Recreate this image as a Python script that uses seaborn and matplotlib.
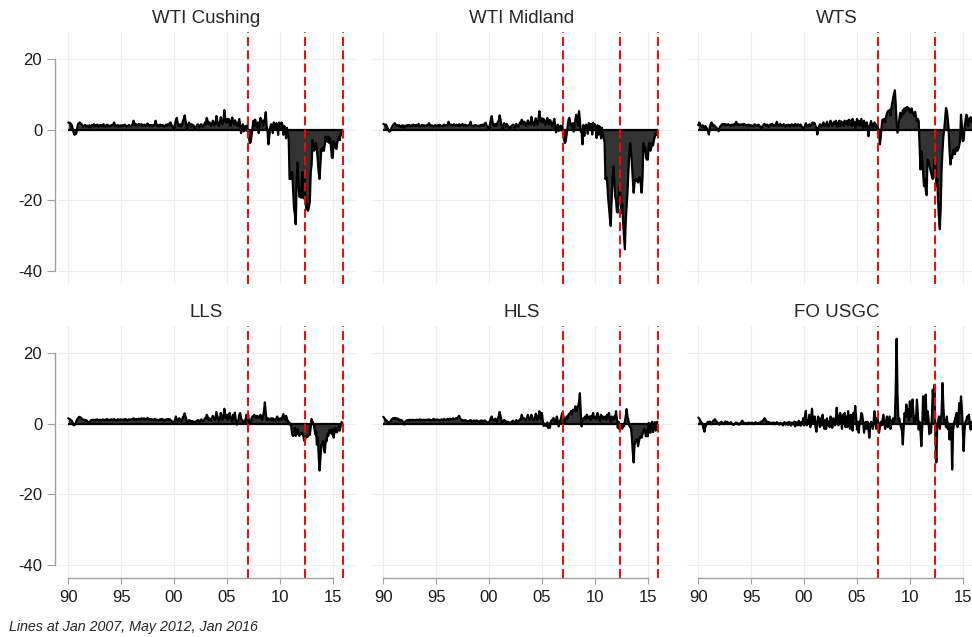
import numpy as np
import pandas as pd
import seaborn as sns
import matplotlib.pyplot as plt

PANELS = ['WTI Cushing', 'WTI Midland', 'WTS', 'LLS', 'HLS', 'FO USGC']
EVENT_LINES = [2007.0, 2012 + 4 / 12, 2016.0]   # Jan 2007, May 2012, Jan 2016
XTICKS = [1990, 1995, 2000, 2005, 2010, 2015]
XLABELS = ['90', '95', '00', '05', '10', '15']
YTICKS = [-40, -20, 0, 20]

# monthly values, one row per year, 1990 .. 2015
wti_cushing = [
    [2.0, 1.8, 1.9, 1.5, 1.2, 0.2, -0.8, -1.5, -1.0, -1.2, 0.3, 1.5],
    [1.8, 2.0, 1.7, 1.5, 1.2, 0.8, 1.0, 1.3, 0.8, 1.1, 1.0, 0.6],
    [1.2, 1.0, 0.7, 1.3, 1.1, 1.5, 0.9, 1.2, 1.0, 1.4, 0.8, 1.1],
    [1.3, 1.0, 1.2, 0.9, 1.5, 1.1, 0.8, 1.2, 1.4, 1.0, 1.1, 0.9],
    [1.0, 1.3, 1.1, 1.5, 2.0, 1.2, 0.9, 1.1, 1.3, 1.0, 0.8, 1.2],
    [1.1, 0.9, 1.3, 1.0, 1.4, 1.2, 0.8, 1.0, 1.1, 1.3, 0.9, 1.0],
    [1.2, 1.5, 2.5, 1.8, 1.2, 1.5, 1.3, 1.0, 1.6, 1.4, 1.2, 1.5],
    [1.3, 1.1, 1.4, 1.2, 1.0, 1.5, 1.7, 1.2, 1.1, 1.3, 0.9, 1.2],
    [1.0, 1.2, 1.5, 2.5, 1.3, 1.0, 1.2, 0.9, 1.4, 1.1, 1.3, 1.0],
    [1.2, 0.8, 1.0, 1.4, 1.1, 1.5, 1.2, 1.8, 2.0, 1.3, 1.0, 0.5],
    [0.2, 1.5, 2.5, 3.3, 2.0, 1.0, 1.2, 1.5, 0.8, 1.2, 2.5, 3.0],
    [4.0, 2.5, 1.0, 0.0, 1.2, 2.0, 1.5, 0.8, 1.5, 1.0, 1.2, 0.5],
    [0.0, 0.8, 1.2, 1.5, 1.0, 0.6, 1.3, 1.5, 1.0, 0.8, 1.2, 2.0],
    [1.5, 3.3, 2.5, 1.5, 2.0, 1.8, 1.0, 1.5, 2.5, 2.0, 1.2, 1.5],
    [3.8, 2.5, 1.5, 1.0, 2.0, 3.5, 2.0, 1.5, 2.5, 5.5, 3.0, 2.0],
    [3.0, 2.0, 3.0, 2.0, 1.0, 2.5, 3.4, 2.0, 1.5, 2.6, 2.2, 1.5],
    [1.0, 2.0, 3.0, 1.0, -1.0, 0.5, 1.5, -0.5, 0.8, 1.0, -0.3, 1.2],
    [-1.0, -2.5, -3.8, -3.5, -1.5, 0.5, 2.5, 1.0, 2.8, 1.5, 0.5, 2.0],
    [-1.0, 1.5, 3.3, 2.8, 2.0, 1.0, 2.5, 3.0, 4.9, 1.0, -0.5, -4.2],
    [-2.0, 0.5, 1.5, 1.0, -1.0, 2.0, 1.5, 0.5, 1.8, 1.0, -1.5, 2.0],
    [1.5, 0.5, 2.0, 1.2, -1.5, 1.0, 0.5, -2.5, 0.5, -1.5, -2.5, -14.0],
    [-14.0, -13.0, -12.0, -17.0, -22.0, -24.0, -26.8, -15.0, -9.4, -14.0, -19.0, -18.8],
    [-19.3, -14.0, -12.0, -19.5, -13.0, -20.0, -22.6, -21.0, -23.0, -21.7, -20.5, -12.0],
    [-10.0, -3.0, -4.0, -6.0, -5.0, -3.8, -5.6, -9.0, -12.0, -14.0, -10.0, -5.6],
    [-6.0, -5.0, -6.0, -4.0, -2.0, -3.0, -3.5, -2.0, -3.8, -2.5, -5.0, -8.0],
    [-8.0, -3.3, -5.0, -4.0, -5.5, -3.8, -3.0, -2.0, -3.0, -1.0, -1.5, -0.5],
]

wti_midland = [
    [1.6, 1.5, 1.2, 1.4, 1.0, 0.3, -0.3, -0.6, -0.4, 0.2, 0.8, 1.2],
    [1.5, 1.8, 1.4, 1.1, 1.3, 0.9, 1.2, 1.0, 0.7, 1.1, 1.2, 0.5],
    [1.0, 1.1, 0.8, 1.2, 1.0, 1.3, 1.1, 0.9, 1.2, 1.0, 1.4, 1.1],
    [1.2, 1.0, 1.3, 1.1, 1.6, 1.0, 0.9, 1.1, 1.3, 0.9, 1.2, 1.0],
    [1.1, 1.2, 1.0, 1.4, 1.8, 1.1, 1.0, 1.2, 1.1, 0.9, 1.0, 1.3],
    [1.0, 1.1, 1.2, 0.9, 1.3, 1.1, 1.0, 0.8, 1.2, 1.4, 1.0, 1.1],
    [1.3, 1.2, 2.2, 1.6, 1.1, 1.4, 1.2, 1.1, 1.5, 1.3, 1.0, 1.4],
    [1.2, 1.0, 1.5, 1.1, 1.2, 1.4, 1.6, 1.0, 1.2, 1.4, 1.0, 1.1],
    [0.9, 1.3, 1.4, 2.2, 1.2, 1.1, 1.0, 1.0, 1.3, 1.2, 1.1, 0.9],
    [1.1, 0.9, 1.2, 1.3, 1.0, 1.4, 1.1, 1.6, 1.9, 1.2, 0.9, 0.4],
    [0.3, 1.6, 2.8, 3.8, 2.0, 1.2, 1.0, 1.6, 0.9, 1.4, 2.2, 2.6],
    [4.0, 2.8, 1.2, 0.1, 1.0, 1.8, 1.4, 0.7, 1.6, 1.1, 1.0, 0.4],
    [0.1, 0.9, 1.1, 1.4, 1.2, 0.5, 1.2, 1.6, 1.1, 0.7, 1.3, 2.0],
    [1.6, 2.8, 2.3, 1.4, 2.2, 1.6, 1.1, 1.7, 2.6, 1.8, 1.3, 1.7],
    [3.6, 2.4, 1.6, 1.2, 2.2, 3.2, 2.0, 1.4, 2.7, 5.2, 2.8, 2.2],
    [3.2, 2.0, 3.0, 2.2, 1.2, 2.4, 3.3, 1.8, 1.4, 2.7, 2.3, 1.4],
    [0.8, 2.1, 3.0, 1.1, -0.8, 0.6, 1.4, -0.4, 0.7, 1.1, -0.2, 1.0],
    [-0.8, -2.8, -3.8, -3.2, -1.2, 0.7, 2.6, 3.3, 2.0, 1.2, 0.6, 1.8],
    [-0.6, 1.4, 3.0, 4.2, 2.2, 1.0, 5.2, 2.8, -0.4, -1.0, -4.2, 1.3],
    [-1.8, 0.6, 1.4, 0.9, -1.2, 1.8, 1.6, 0.4, 1.6, -1.4, 1.9, 1.2],
    [1.5, 0.5, -2.4, 1.2, -1.5, 1.0, 0.5, -2.5, 0.5, -1.5, -2.5, -3.5],
    [-14.0, -13.5, -15.0, -19.0, -22.0, -25.0, -27.3, -20.0, -14.0, -10.4, -14.0, -19.0],
    [-20.0, -23.2, -23.5, -18.8, -16.0, -19.0, -23.5, -21.0, -26.0, -30.0, -33.9, -26.0],
    [-21.7, -18.0, -12.0, -7.0, -3.8, -6.0, -9.4, -14.0, -17.9, -15.0, -14.0, -14.5],
    [-14.0, -15.0, -14.0, -13.5, -15.0, -17.9, -14.0, -3.8, -6.0, -5.0, -8.0, -8.5],
    [-8.5, -5.0, -3.8, -6.0, -5.0, -3.8, -4.5, -3.0, -2.0, -1.0, -1.5, -0.5],
]

wts = [
    [1.2, 2.0, 1.5, 1.0, 0.8, 1.2, 0.8, 0.5, 1.0, 0.6, 0.2, -0.3],
    [-1.4, 0.5, 1.5, 2.0, 1.6, 1.0, 1.2, 0.9, 0.6, 0.4, 0.1, -0.5],
    [0.4, 0.9, 1.2, 1.5, 1.3, 1.6, 1.4, 1.5, 1.2, 1.4, 1.5, 1.3],
    [1.2, 1.0, 1.4, 1.3, 1.1, 1.6, 1.5, 2.2, 1.4, 1.3, 1.5, 1.2],
    [1.4, 1.3, 1.5, 1.2, 1.6, 1.4, 1.2, 1.3, 1.1, 1.4, 1.2, 1.0],
    [1.2, 1.0, 0.9, 1.3, 1.5, 1.2, 1.0, 1.1, 1.4, 1.2, 0.9, 0.6],
    [0.4, 1.0, 1.3, 1.6, 1.2, 1.0, 1.4, 1.2, 0.8, 1.1, 1.5, 1.3],
    [1.6, 1.2, 1.0, 1.4, 1.2, 2.2, 1.5, 1.0, 1.2, 1.6, 1.3, 1.0],
    [1.2, 1.5, 1.0, 0.8, 1.3, 1.1, 1.4, 1.2, 0.9, 1.3, 1.5, 1.1],
    [1.3, 1.0, 1.6, 1.2, 1.0, 1.5, 1.3, 1.1, 1.4, 1.0, 0.6, 0.3],
    [0.5, 1.0, 1.8, 1.2, 0.8, 1.2, 1.5, 0.9, 1.2, 1.8, 2.0, 1.5],
    [1.8, 1.0, 0.5, -1.4, 0.2, 1.0, 1.5, 1.2, 0.8, 1.5, 2.0, 1.2],
    [1.0, 1.5, 2.2, 1.2, 0.8, 1.5, 2.5, 1.5, 1.0, 1.8, 2.2, 1.5],
    [2.5, 1.2, 0.8, 2.0, 2.5, 1.0, 2.3, 1.5, 2.0, 1.0, 2.5, 2.0],
    [1.5, 2.5, 1.2, 2.8, 1.5, 2.5, 1.0, 3.0, 1.5, 2.2, 0.5, 1.0],
    [3.0, 1.5, 2.5, 1.0, 2.0, 3.0, 1.0, 0.5, 2.5, 1.5, 0.5, 2.0],
    [1.0, -1.9, 0.5, 1.5, 2.4, 1.5, 0.5, 1.5, 2.0, 1.0, 0.5, 1.5],
    [0.5, -1.0, -4.2, -2.0, 1.0, 2.8, 2.5, 3.0, 2.0, 3.5, 4.5, 5.2],
    [5.0, 5.6, 4.0, 6.0, 7.5, 8.9, 10.0, 11.1, 7.0, 2.0, -0.9, 1.0],
    [3.0, 4.7, 3.5, 4.0, 5.5, 4.5, 6.0, 5.0, 6.2, 6.4, 5.5, 6.0],
    [5.0, 4.7, 6.0, 5.0, 4.5, 3.8, 5.0, 3.5, 2.4, 3.0, 2.4, -4.7],
    [-11.3, -6.1, -8.0, -12.0, -16.0, -14.0, -17.0, -18.6, -8.5, -9.0, -9.9, -11.0],
    [-12.0, -13.2, -14.0, -12.0, -8.5, -10.0, -16.0, -14.0, -20.0, -25.0, -28.2, -22.0],
    [-11.3, -6.0, -2.0, 0.0, 3.0, 6.1, 5.2, 3.0, 0.0, -6.0, -9.9, -8.0],
    [-8.0, -6.0, -5.6, -7.0, -6.0, -5.0, -6.0, -5.5, -4.5, -3.0, 4.2, 1.0],
    [-3.3, -3.0, 0.5, 2.4, 4.2, 3.8, 1.0, 3.0, 2.5, 3.5, 2.0, 2.5],
]

lls = [
    [1.5, 1.3, 1.2, 1.0, 0.8, 0.2, -0.5, -0.4, -0.2, 0.5, 1.2, 1.5],
    [1.8, 1.9, 1.7, 1.5, 1.2, 1.0, 1.1, 0.9, 1.0, 0.8, 0.6, 0.2],
    [0.0, 0.8, 1.0, 0.9, 1.1, 1.0, 0.9, 1.1, 1.0, 1.2, 0.9, 1.0],
    [1.1, 0.9, 1.0, 1.2, 1.0, 0.9, 1.1, 1.0, 1.3, 1.0, 0.9, 1.1],
    [1.0, 1.2, 1.0, 1.1, 1.3, 1.0, 0.9, 1.0, 1.2, 1.1, 1.0, 1.2],
    [1.1, 1.0, 1.2, 1.0, 1.1, 1.3, 1.0, 0.9, 1.1, 1.2, 1.0, 1.1],
    [1.2, 1.3, 1.5, 1.2, 1.0, 1.3, 1.1, 1.2, 1.4, 1.3, 1.1, 1.5],
    [1.4, 1.2, 1.5, 1.3, 1.1, 1.4, 1.6, 1.2, 1.1, 1.3, 1.0, 1.2],
    [1.0, 1.1, 1.3, 1.2, 1.0, 1.1, 0.9, 1.0, 1.2, 1.1, 1.3, 1.0],
    [1.1, 0.8, 1.0, 1.2, 1.0, 1.3, 1.1, 1.2, 1.0, 0.8, 0.5, 0.3],
    [0.5, 1.0, 2.0, 1.2, 0.8, 1.0, 1.5, 0.8, 0.3, 1.0, 1.8, 2.2],
    [2.9, 2.0, 1.0, 0.0, 0.5, 1.0, 0.8, 0.5, 0.7, 0.5, 0.6, 0.3],
    [0.4, 0.6, 0.8, 1.0, 0.7, 0.5, 1.0, 1.2, 0.8, 0.6, 1.0, 1.5],
    [1.2, 2.5, 2.0, 1.0, 1.5, 1.2, 0.8, 1.5, 2.2, 1.5, 1.0, 1.4],
    [3.3, 2.2, 1.2, 0.8, 1.5, 3.0, 1.8, 1.0, 2.0, 4.2, 2.5, 1.5],
    [2.5, 1.1, 1.5, 3.0, 2.0, 1.0, 0.5, 2.5, 1.5, 3.1, 1.0, -0.3],
    [0.5, 1.0, 2.5, 3.0, 1.5, 1.0, 0.5, 0.8, 0.0, 1.0, 2.5, 1.0],
    [2.5, 0.5, -0.2, 0.5, 1.5, 2.0, 2.0, 2.5, 2.0, 1.5, 2.2, 1.8],
    [2.0, 1.5, 2.5, 2.0, 1.0, 2.0, 3.5, 6.0, 3.0, 1.1, 1.0, 1.5],
    [1.2, 1.0, 1.5, 0.8, 1.5, 1.0, 1.2, 0.8, 1.5, 2.0, 1.0, 1.4],
    [1.0, 1.5, 1.2, 2.0, 2.7, 1.5, 1.0, 2.2, 1.5, 0.6, 0.5, -0.2],
    [0.0, -1.0, -3.1, -3.5, -3.0, -1.2, -3.5, -2.6, -1.5, -3.0, -3.5, -2.6],
    [-3.0, -2.6, -3.0, -4.0, -5.0, -4.2, -3.6, -3.8, -3.6, -3.0, -3.2, -1.0],
    [1.3, 0.5, 0.0, -1.0, -3.0, -2.0, -6.0, -4.0, -9.0, -13.3, -10.0, -6.0],
    [-6.0, -5.0, -7.3, -8.2, -4.5, -5.0, -3.0, -3.5, -2.0, -1.7, -2.5, -3.0],
    [-1.5, -4.0, -2.0, -1.2, -2.5, -2.4, -1.5, -0.8, -2.0, -0.5, 0.4, 0.2],
]

hls = [
    [1.9, 1.6, 1.2, 1.0, 0.8, 0.5, -0.2, 0.3, 0.6, 1.0, 1.3, 1.5],
    [1.4, 1.6, 1.3, 1.5, 1.2, 1.4, 1.0, 0.8, 1.1, 0.9, 0.6, 0.2],
    [-0.3, 0.6, 0.8, 0.9, 1.0, 0.8, 1.1, 0.9, 1.0, 1.1, 0.9, 1.0],
    [1.0, 0.9, 1.1, 1.0, 0.9, 1.2, 1.0, 1.1, 0.9, 1.0, 1.1, 0.9],
    [1.1, 1.0, 0.9, 1.2, 1.0, 1.1, 1.0, 0.9, 1.1, 1.3, 1.0, 1.1],
    [1.0, 1.2, 1.0, 1.1, 0.9, 1.0, 1.2, 1.1, 1.0, 1.3, 1.1, 1.0],
    [1.1, 1.3, 1.2, 1.0, 1.4, 1.2, 1.1, 1.5, 1.3, 1.2, 1.4, 1.6],
    [1.5, 1.8, 2.2, 1.6, 1.2, 1.0, 0.8, 0.9, 0.7, 1.0, 0.8, 0.6],
    [0.7, 0.6, 0.8, 1.0, 0.7, 0.5, 0.8, 0.9, 0.6, 0.7, 0.9, 0.5],
    [0.6, 0.4, 0.7, 0.9, 0.6, 0.8, 0.5, 0.9, 0.7, 0.5, 0.3, 0.2],
    [0.3, 0.8, 1.5, 2.0, 1.2, 0.8, 1.0, 1.4, 0.8, 0.5, 1.5, 2.0],
    [3.3, 2.2, 1.0, 0.2, 0.6, 1.0, 0.8, 0.4, 0.6, 0.3, 0.5, 0.0],
    [0.0, 0.4, 0.6, 0.8, 0.5, 0.3, 0.7, 1.0, 0.6, 0.5, 0.8, 1.2],
    [1.0, 2.5, 1.8, 1.2, 1.5, 1.0, 0.8, 1.6, 2.5, 1.5, 1.0, 1.4],
    [2.5, 1.8, 1.2, 0.8, 1.5, 2.8, 1.6, 1.0, 2.0, 3.5, 2.0, 1.2],
    [3.0, 0.5, -0.7, 0.0, -0.5, -0.7, 0.3, -1.2, 0.0, -1.2, 0.5, 1.0],
    [1.0, 1.6, 0.8, 0.0, 1.2, 2.0, 0.5, -0.8, 0.5, 1.0, 2.0, 3.0],
    [2.5, 1.2, 0.5, 1.0, 2.0, 1.5, 2.5, 2.8, 3.0, 3.5, 2.5, 3.9],
    [3.5, 4.0, 4.9, 3.5, 4.5, 5.0, 6.0, 8.6, 3.0, -0.8, 0.5, 1.5],
    [1.5, 2.0, 1.2, 2.5, 1.8, 1.5, 2.0, 1.0, 2.2, 1.5, 3.0, 1.5],
    [1.5, 2.0, 1.2, 3.0, 2.0, 1.5, 0.8, 2.5, 1.5, 2.0, 1.2, 1.8],
    [2.0, 1.0, 2.5, 1.5, 3.0, 1.5, 0.5, 2.0, 1.5, 1.0, 2.0, 1.5],
    [3.5, 1.0, -1.2, 0.5, -1.7, -1.0, -0.5, -1.5, -0.3, -0.8, 0.5, 2.0],
    [4.1, 2.0, 1.1, -0.5, -1.0, -1.2, -4.0, -8.0, -11.0, -6.0, -5.0, -4.5],
    [-4.5, -6.4, -5.0, -4.0, -3.5, -4.0, -3.1, -2.0, -1.5, -2.5, -3.6, -2.0],
    [-3.6, 0.2, -1.0, -2.6, 0.0, 0.5, -2.4, -1.0, 0.4, -2.0, 0.3, 0.5],
]

fo_usgc = [
    [1.7, 1.4, 1.0, 0.5, 0.2, -0.5, -1.5, -2.3, -1.0, -0.3, 0.2, 0.5],
    [0.3, 0.6, 0.2, -0.2, 0.4, 0.8, 1.0, 1.2, 0.8, 0.5, 0.3, 0.0],
    [-0.3, 0.2, 0.5, 0.3, 0.1, -0.2, 0.4, 0.6, 0.3, 0.5, 0.2, 0.0],
    [0.2, 0.4, 0.1, -0.2, -0.4, -0.2, 0.1, 0.3, 0.2, 0.0, -0.3, -0.1],
    [0.2, 0.5, 0.8, 0.3, 0.0, 0.2, 0.1, -0.2, 0.1, 0.3, 0.0, 0.2],
    [0.1, 0.3, 0.0, -0.2, 0.2, 0.4, 0.1, 0.0, 0.2, -0.1, 0.3, 0.5],
    [0.4, 0.8, 1.0, 1.5, 1.2, 0.8, 0.4, 0.2, 0.5, 0.3, 0.1, 0.2],
    [0.0, 0.3, 0.2, -0.2, 0.1, 0.4, 0.2, 0.0, -0.3, 0.2, 0.1, -0.2],
    [-0.5, 0.2, 0.4, -0.3, 0.1, 0.3, -0.4, 0.5, 0.2, -0.6, 0.3, 0.1],
    [-0.3, 0.6, -0.8, 0.4, 0.2, -0.5, 0.8, 0.3, -0.6, 0.4, -0.2, 1.5],
    [-0.5, 2.0, 3.6, -0.5, 1.0, 0.5, 2.5, -1.0, 1.5, 4.2, 0.5, 1.0],
    [2.0, -1.0, -2.3, 0.5, 2.0, 1.0, -1.0, 1.5, -0.5, 2.5, 0.0, -1.5],
    [1.0, -1.5, 1.5, -0.5, 0.5, -1.0, 2.0, 0.5, -1.2, 1.5, 0.8, -0.5],
    [1.5, 4.5, 1.5, -0.5, 2.0, 3.0, 1.0, -1.5, 2.5, 0.5, 3.0, -1.0],
    [2.0, -1.0, 3.5, 1.0, -1.5, 2.5, 0.5, -2.0, 3.0, 1.5, 5.0, 2.0],
    [-1.7, 0.5, -2.6, 0.5, 1.0, 3.0, 2.5, 0.5, -2.6, -1.0, 0.5, -1.5],
    [0.5, -1.5, -4.0, -1.0, 0.5, -0.5, -1.5, 1.0, 3.5, 0.0, -1.5, 1.6],
    [0.0, -2.6, -1.0, 0.5, -0.5, 1.0, 2.5, 0.0, -1.5, 0.5, 2.0, -1.0],
    [0.5, 2.0, -1.5, 0.0, 1.0, 1.5, 0.0, 1.5, 10.0, 24.0, 8.0, 1.0],
    [1.5, 0.0, -1.0, -2.0, -5.9, -1.0, 3.0, 2.0, 5.4, 2.0, 4.0, 1.0],
    [6.3, 2.0, 5.0, 6.8, 3.0, 0.0, 2.0, 1.0, 6.8, 3.0, -1.7, 0.5],
    [-2.0, -6.4, -1.0, 7.7, 1.0, 3.0, 8.2, 0.0, 3.5, 2.0, -3.0, -1.7],
    [-2.6, 2.0, 9.6, 5.0, 11.0, -3.6, -11.0, -1.0, 0.5, 2.0, -1.5, 1.0],
    [3.0, 11.5, 5.0, 0.5, 1.0, -1.0, 2.0, -1.5, 0.0, -4.5, -2.0, -1.0],
    [-13.0, -2.0, 0.0, 1.0, 2.0, 3.0, -1.0, 0.5, 5.8, 3.0, 7.7, 4.0],
    [-1.0, -7.8, -2.0, 0.5, 1.0, 2.0, 1.5, 2.5, 0.0, -1.7, 0.5, -1.0],
]

series_values = [wti_cushing, wti_midland, wts, lls, hls, fo_usgc]
months = 1990 + np.arange(26 * 12) / 12

frames = []
for name, vals in zip(PANELS, series_values):
    frames.append(pd.DataFrame({'date': months,
                                'spread': np.concatenate(vals),
                                'series': name}))
df = pd.concat(frames, ignore_index=True)

sns.set_style('whitegrid', {'grid.color': '#ececec', 'axes.edgecolor': '#a0a0a0'})
plt.rcParams['font.family'] = ['Liberation Sans', 'DejaVu Sans']
plt.rcParams['axes.unicode_minus'] = False
plt.rcParams['grid.linewidth'] = 0.8


def area(data, **kws):
    ax = plt.gca()
    ax.fill_between(data['date'], data['spread'], 0, color='#333333', lw=0)
    ax.hlines(0, data['date'].min(), data['date'].max() + 1 / 12, color='black', lw=1.6)
    sns.lineplot(data=data, x='date', y='spread', color='black', lw=1.6,
                 estimator=None, errorbar=None, ax=ax)
    for x in EVENT_LINES:
        ax.axvline(x, color='red', lw=1.4, dashes=(4.6, 2.2))


g = sns.FacetGrid(df, col='series', col_wrap=3, col_order=PANELS,
                  sharex=True, sharey=True, despine=False)
g.map_dataframe(area)
g.set_titles('{col_name}', size=13.5, pad=6.5)

for i, ax in enumerate(g.axes.flat):
    row, col = divmod(i, 3)
    ax.set_xlim(1988.98, 2017.15)
    ax.set_ylim(-43.7, 27.6)
    ax.set_xticks(XTICKS)
    ax.set_xticklabels(XLABELS)
    ax.set_yticks(YTICKS)
    ax.set_xlabel('')
    ax.set_ylabel('')
    ax.spines['top'].set_visible(False)
    ax.spines['right'].set_visible(False)
    ax.spines['left'].set_visible(col == 0)
    ax.spines['bottom'].set_visible(row == 1)
    ax.spines['left'].set_bounds(-40, 20)
    ax.spines['left'].set_position(('outward', 2))
    ax.spines['bottom'].set_bounds(1990, 2015)
    for s in ('left', 'bottom'):
        ax.spines[s].set_color('#a0a0a0')
        ax.spines[s].set_linewidth(1.0)
    ax.tick_params(axis='y', left=col == 0, labelleft=col == 0, length=6,
                   color='#a0a0a0', pad=3, labelsize=12, labelcolor='#1a1a1a')
    ax.tick_params(axis='x', bottom=row == 1, labelbottom=row == 1, length=4,
                   color='#a0a0a0', pad=5, labelsize=12, labelcolor='#1a1a1a')

fig = g.figure
fig.set_size_inches(9.72, 6.37)
fig.subplots_adjust(left=57.5 / 972, right=985.5 / 972, top=1 - 32 / 637,
                    bottom=1 - 578 / 637, wspace=0.057, hspace=0.167)
fig.text(8.5 / 972, 1 - 631 / 637, 'Lines at Jan 2007, May 2012, Jan 2016',
         style='italic', fontsize=10.3, va='baseline', ha='left')

fig.savefig('out.png', dpi=100)
